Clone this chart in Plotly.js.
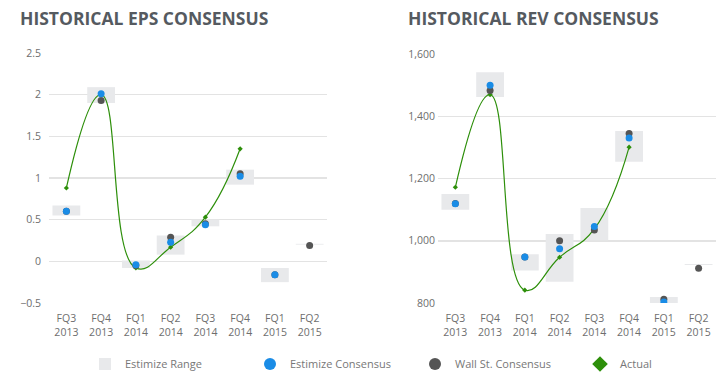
<!DOCTYPE html>
<html>
<head>
<meta charset="utf-8">
<script src="https://cdn.plot.ly/plotly-3.0.1.min.js"></script>
<style>
html,body{margin:0;padding:0;background:#fff;}
#chart{width:728px;height:384px;}
</style>
</head>
<body>
<div id="chart"></div>
<script>
// Categories (shared by both panels)
const categories = ["FQ3<br>2013","FQ4<br>2013","FQ1<br>2014","FQ2<br>2014","FQ3<br>2014","FQ4<br>2014","FQ1<br>2015","FQ2<br>2015"];

// EPS panel
const epsRangeLow  = [0.55, 1.90, -0.08, 0.08, 0.42, 0.92, -0.25, 0.20];
const epsRangeHigh = [0.67, 2.09, 0.01, 0.31, 0.50, 1.10, -0.08, 0.21];
const epsEstimize  = [0.60, 2.01, -0.04, 0.23, 0.44, 1.02, -0.16, null];
const epsWallSt    = [0.60, 1.93, -0.05, 0.29, 0.45, 1.05, -0.16, 0.19];
const epsActual    = [0.88, 2.00, -0.08, 0.17, 0.53, 1.35, null, null];

// Revenue panel
const revRangeLow  = [1100, 1462, 904, 868, 1002, 1254, 795, 922];
const revRangeHigh = [1150, 1542, 957, 1022, 1105, 1353, 819, 925];
const revEstimize  = [1119, 1500, 948, 974, 1046, 1330, 803, null];
const revWallSt    = [1120, 1483, 948, 1000, 1035, 1345, 812, 912];
const revActual    = [1172, 1470, 841, 947, 1038, 1301, null, null];

const FONT = "'Open Sans', Lato, sans-serif";
const cRange = "#e8e9eb", cEst = "#1a8ce6", cWall = "#555555", cAct = "#2d8f0a";

function diff(h, l){ return h.map((v,i)=>v - l[i]); }

function panel(xa, ya, low, high, est, wall, act, first){
  return [
    {type:"bar", x:categories, y:diff(high,low), base:low, xaxis:xa, yaxis:ya,
     width:0.8, marker:{color:cRange, line:{width:0}}, name:"Estimize Range",
     showlegend:first, legendrank:1, hoverinfo:"skip"},
    {type:"scatter", mode:"lines", x:categories, y:act, xaxis:xa, yaxis:ya,
     line:{color:cAct, width:1.2, shape:"spline", smoothing:1.3},
     showlegend:false, hoverinfo:"skip"},
    {type:"scatter", mode:"markers", x:categories, y:act, xaxis:xa, yaxis:ya,
     marker:{color:cAct, size:4, symbol:"diamond"}, name:"Actual",
     showlegend:first, legendrank:4},
    {type:"scatter", mode:"markers", x:categories, y:wall, xaxis:xa, yaxis:ya,
     marker:{color:cWall, size:7}, name:"Wall St. Consensus",
     showlegend:first, legendrank:3},
    {type:"scatter", mode:"markers", x:categories, y:est, xaxis:xa, yaxis:ya,
     marker:{color:cEst, size:7}, name:"Estimize Consensus",
     showlegend:first, legendrank:2}
  ];
}

const data = [].concat(
  panel("x","y", epsRangeLow, epsRangeHigh, epsEstimize, epsWallSt, epsActual, true),
  panel("x2","y2", revRangeLow, revRangeHigh, revEstimize, revWallSt, revActual, false)
);

const xcommon = {type:"category", range:[-0.5,7.5], showgrid:false, zeroline:false,
  showline:false, ticks:"", ticklabelstandoff:8,
  tickfont:{family:FONT, size:10.5, color:"#6e6e6e"}, fixedrange:true};
const ycommon = {showgrid:true, gridcolor:"#e3e3e3", gridwidth:1.5, zeroline:false,
  showline:false, ticks:"", tickfont:{family:FONT, size:10.5, color:"#6e6e6e"}, fixedrange:true};

const layout = {
  width:728, height:384,
  margin:{l:0, r:0, t:0, b:0, autoexpand:false},
  paper_bgcolor:"#fff", plot_bgcolor:"#fff",
  font:{family:FONT, color:"#6e6e6e"},
  barmode:"overlay",
  xaxis: Object.assign({}, xcommon, {domain:[0.0673, 0.4492], anchor:"y"}),
  yaxis: Object.assign({}, ycommon, {domain:[0.211, 0.862], anchor:"x",
    range:[-0.5, 2.5], tickvals:[-0.5,0,0.5,1,1.5,2,2.5], ticklabelstandoff:7}),
  xaxis2: Object.assign({}, xcommon, {domain:[0.6016, 0.9835], anchor:"y2"}),
  yaxis2: Object.assign({}, ycommon, {domain:[0.211, 0.859], anchor:"x2",
    range:[800, 1600], tickvals:[800,1000,1200,1400,1600], tickformat:",d", ticklabelstandoff:2}),
  showlegend:true,
  legend:{orientation:"h", x:85/728, xanchor:"left", y:0.052, yanchor:"middle",
    entrywidth:120, itemsizing:"constant", traceorder:"normal",
    font:{family:FONT, size:11, color:"#777"}, bgcolor:"rgba(0,0,0,0)"},
  annotations:[
    {text:"<b>HISTORICAL EPS CONSENSUS</b>", xref:"paper", yref:"paper", x:18/728, y:1-18/384,
     xanchor:"left", yanchor:"middle", showarrow:false, font:{family:FONT, size:17.5, color:"#555a60"}},
    {text:"<b>HISTORICAL REV CONSENSUS</b>", xref:"paper", yref:"paper", x:406/728, y:1-18/384,
     xanchor:"left", yanchor:"middle", showarrow:false, font:{family:FONT, size:17.5, color:"#555a60"}}
  ]
};

Plotly.newPlot("chart", data, layout, {displayModeBar:false, staticPlot:true});
</script>
</body>
</html>
